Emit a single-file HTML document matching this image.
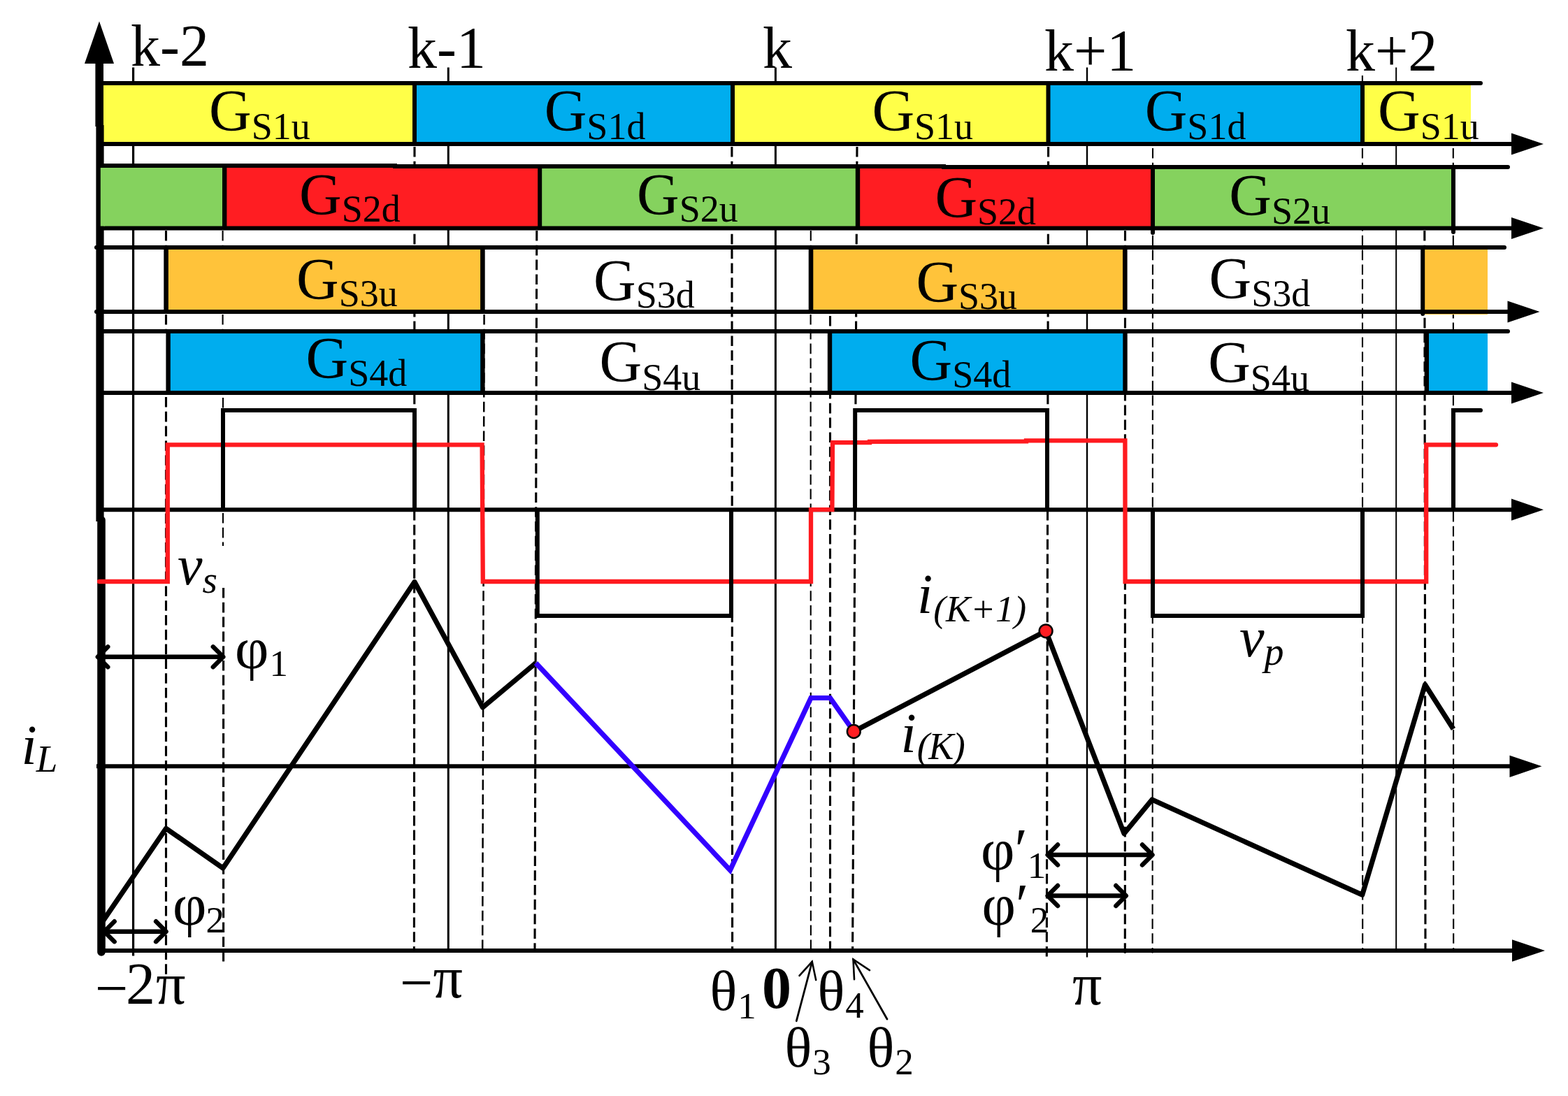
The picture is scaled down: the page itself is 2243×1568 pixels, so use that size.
<!DOCTYPE html>
<html lang="en">
<head>
<meta charset="utf-8">
<title>Gate signals and waveforms</title>
<style>
html,body{margin:0;padding:0;background:#fff;}
body{width:2243px;height:1568px;overflow:hidden;}
svg{display:block;}
svg text{font-family:"Liberation Serif","DejaVu Serif",serif;fill:#000;}
</style>
</head>
<body>
<svg width="2243" height="1568" viewBox="0 0 2243 1568">
<rect x="0" y="0" width="2243" height="1568" fill="#fff"/>
<line x1="190.6" y1="96.5" x2="190.6" y2="1367.5" stroke="#000" stroke-width="3.2" />
<line x1="641.3" y1="96.5" x2="641.3" y2="1360" stroke="#000" stroke-width="3" />
<line x1="1109.4" y1="96.5" x2="1109.4" y2="1360" stroke="#000" stroke-width="3" />
<line x1="1555" y1="96.5" x2="1555" y2="1369.5" stroke="#000" stroke-width="2.4" />
<line x1="1997.2" y1="96.5" x2="1997.2" y2="1360" stroke="#000" stroke-width="2" />
<line x1="237.5" y1="568" x2="237.5" y2="1396" stroke="#000" stroke-width="3.1" stroke-dasharray="14.6,6.2"/>
<line x1="237.5" y1="330" x2="237.5" y2="352" stroke="#000" stroke-width="3.1" stroke-dasharray="14.6,6.2"/>
<line x1="237.5" y1="450" x2="237.5" y2="472" stroke="#000" stroke-width="3.1" stroke-dasharray="14.6,6.2"/>
<line x1="318.6" y1="330" x2="318.6" y2="352" stroke="#000" stroke-width="2.1" stroke-dasharray="14.6,6.2"/>
<line x1="318.6" y1="450" x2="318.6" y2="472" stroke="#000" stroke-width="2.1" stroke-dasharray="14.6,6.2"/>
<line x1="319" y1="569" x2="319" y2="586" stroke="#000" stroke-width="2.1" stroke-dasharray="14.6,6.2"/>
<line x1="319" y1="734" x2="319" y2="781" stroke="#000" stroke-width="2.1" stroke-dasharray="14.6,6.2"/>
<line x1="319.6" y1="841" x2="319.6" y2="1381" stroke="#000" stroke-width="3.1" stroke-dasharray="14.6,6.2"/>
<line x1="593" y1="210" x2="592.4" y2="1358" stroke="#000" stroke-width="3.1" stroke-dasharray="14.6,6.2"/>
<line x1="692.6" y1="450" x2="690.2" y2="1358" stroke="#000" stroke-width="2.5" stroke-dasharray="14.6,6.2"/>
<line x1="767.8" y1="330" x2="765" y2="1358" stroke="#000" stroke-width="3.1" stroke-dasharray="14.6,6.2"/>
<line x1="1046.9" y1="210" x2="1047.6" y2="1358" stroke="#000" stroke-width="3.1" stroke-dasharray="14.6,6.2"/>
<line x1="1159.8" y1="330" x2="1159.8" y2="352" stroke="#000" stroke-width="2.1" stroke-dasharray="14.6,6.2"/>
<line x1="1159.6" y1="450" x2="1159.9" y2="1358" stroke="#000" stroke-width="2.1" stroke-dasharray="14.6,6.2"/>
<line x1="1187.5" y1="452" x2="1187.5" y2="1358" stroke="#000" stroke-width="3.1" stroke-dasharray="14.6,6.2"/>
<line x1="1226" y1="210" x2="1219.6" y2="1358" stroke="#000" stroke-width="3.1" stroke-dasharray="14.6,6.2"/>
<line x1="1499.6" y1="210" x2="1497.3" y2="1369.5" stroke="#000" stroke-width="3.1" stroke-dasharray="14.6,6.2"/>
<line x1="1609.5" y1="330" x2="1609.3" y2="1369.5" stroke="#000" stroke-width="3.1" stroke-dasharray="14.6,6.2"/>
<line x1="1649" y1="212" x2="1648.6" y2="1363.5" stroke="#000" stroke-width="2.1" stroke-dasharray="14.6,6.2"/>
<line x1="1948.9" y1="108" x2="1949.2" y2="1358" stroke="#000" stroke-width="2.1" stroke-dasharray="14.6,6.2"/>
<line x1="2037.8" y1="330" x2="2039" y2="1358" stroke="#000" stroke-width="3.1" stroke-dasharray="14.6,6.2"/>
<line x1="2078.8" y1="212" x2="2079.2" y2="1358" stroke="#000" stroke-width="2.1" stroke-dasharray="14.6,6.2"/>
<rect x="146" y="121" width="447" height="83" fill="#ffff48"/>
<rect x="593" y="121" width="455" height="83" fill="#00adee"/>
<rect x="1048" y="121" width="451" height="83" fill="#ffff48"/>
<rect x="1499" y="121" width="450" height="83" fill="#00adee"/>
<rect x="1949" y="121" width="155" height="83" fill="#ffff48"/>
<rect x="143.8" y="239" width="177.2" height="85" fill="#85d25e"/>
<rect x="321" y="239" width="451" height="85" fill="#ff1d22"/>
<rect x="772" y="239" width="455" height="85" fill="#85d25e"/>
<rect x="1227" y="239" width="422" height="85" fill="#ff1d22"/>
<rect x="1649" y="239" width="430" height="85" fill="#85d25e"/>
<rect x="237.5" y="356" width="452.5" height="90" fill="#ffc33a"/>
<rect x="1160" y="356" width="449" height="90" fill="#ffc33a"/>
<rect x="2035" y="356" width="93" height="90" fill="#ffc33a"/>
<rect x="2035" y="440" width="93" height="10" fill="#ffc33a"/>
<rect x="240.6" y="476" width="449.4" height="84" fill="#00adee"/>
<rect x="1187" y="476" width="422" height="84" fill="#00adee"/>
<rect x="2041" y="476" width="87" height="84" fill="#00adee"/>
<line x1="143" y1="119" x2="2118" y2="119" stroke="#000" stroke-width="6" stroke-linecap="round"/>
<polyline points="143,237 565,237 565,238 1350,238 1350,239 2157,239" fill="none" stroke="#000" stroke-width="6" stroke-linejoin="miter" stroke-linecap="round"/>
<line x1="138" y1="354" x2="2152" y2="354" stroke="#000" stroke-width="6" stroke-linecap="round"/>
<line x1="143" y1="474" x2="2157" y2="474" stroke="#000" stroke-width="6" stroke-linecap="round"/>
<line x1="593" y1="119" x2="593" y2="206" stroke="#000" stroke-width="6" />
<line x1="1048" y1="119" x2="1048" y2="206" stroke="#000" stroke-width="6" />
<line x1="1499.5" y1="119" x2="1499.5" y2="206" stroke="#000" stroke-width="6" />
<line x1="1949" y1="119" x2="1949" y2="206" stroke="#000" stroke-width="6" />
<line x1="321.2" y1="238" x2="321.2" y2="326" stroke="#000" stroke-width="6.4" />
<line x1="1227" y1="238" x2="1227" y2="326" stroke="#000" stroke-width="6.4" />
<line x1="1649" y1="239" x2="1649" y2="333" stroke="#000" stroke-width="6" stroke-linecap="round"/>
<line x1="772.2" y1="235" x2="772.2" y2="326" stroke="#000" stroke-width="6" />
<line x1="2079" y1="239" x2="2079" y2="332" stroke="#000" stroke-width="6" stroke-linecap="round"/>
<line x1="237.6" y1="354" x2="237.6" y2="446" stroke="#000" stroke-width="6.6" />
<line x1="690.4" y1="354" x2="690.4" y2="446" stroke="#000" stroke-width="6.6" />
<line x1="1160" y1="354" x2="1160" y2="446" stroke="#000" stroke-width="6.6" />
<line x1="1609.3" y1="354" x2="1609.3" y2="446" stroke="#000" stroke-width="6.6" />
<line x1="2035.2" y1="354" x2="2035.2" y2="449" stroke="#000" stroke-width="6" stroke-linecap="round"/>
<line x1="240.6" y1="474" x2="240.6" y2="562" stroke="#000" stroke-width="6.4" />
<line x1="690.4" y1="474" x2="690.4" y2="562" stroke="#000" stroke-width="6.4" />
<line x1="1187" y1="474" x2="1187" y2="562" stroke="#000" stroke-width="6.4" />
<line x1="1609.5" y1="474" x2="1609.5" y2="562" stroke="#000" stroke-width="6.4" />
<line x1="2040.8" y1="474" x2="2040.8" y2="562" stroke="#000" stroke-width="6.4" />
<line x1="143" y1="206" x2="2164" y2="206" stroke="#000" stroke-width="6" />
<polygon points="2208,206 2162,190.4 2162,221.6" fill="#000"/>
<line x1="143" y1="326.5" x2="2164" y2="326.5" stroke="#000" stroke-width="6" />
<polygon points="2208,326.5 2162,310.9 2162,342.1" fill="#000"/>
<line x1="138" y1="446" x2="2158.5" y2="446" stroke="#000" stroke-width="6" />
<polygon points="2202.5,446 2156.5,430.4 2156.5,461.6" fill="#000"/>
<line x1="143" y1="562" x2="2164" y2="562" stroke="#000" stroke-width="6" />
<polygon points="2208,562 2162,546.4 2162,577.6" fill="#000"/>
<line x1="143" y1="729.2" x2="2164" y2="729.2" stroke="#000" stroke-width="6" />
<polygon points="2208,729.2 2162,713.6 2162,744.8000000000001" fill="#000"/>
<line x1="138" y1="1096.3" x2="2161.5" y2="1096.3" stroke="#000" stroke-width="6" />
<polygon points="2205.5,1096.3 2159.5,1080.7 2159.5,1111.8999999999999" fill="#000"/>
<line x1="140" y1="1360" x2="2165" y2="1360" stroke="#000" stroke-width="6" />
<polygon points="2210,1360 2163,1344.2 2163,1375.8" fill="#000"/>
<line x1="138" y1="446" x2="150" y2="446" stroke="#000" stroke-width="6" stroke-linecap="round"/>
<line x1="142.2" y1="85" x2="142.2" y2="181" stroke="#000" stroke-width="11.6" />
<line x1="143" y1="179" x2="143" y2="746" stroke="#000" stroke-width="11.2" />
<line x1="145" y1="744" x2="145" y2="1362" stroke="#000" stroke-width="11.6" stroke-linecap="round"/>
<polygon points="142,30.5 121,91 163,91" fill="#000"/>
<rect x="143.8" y="240" width="6.199999999999989" height="83.5" fill="#85d25e"/>
<polyline points="142,832 239.8,832 239.8,636.3 689.6,636.3 690.8,832 1160,832 1160,729.2 1190.4,729.2 1191,633.2 1244,633.2 1244,631.8 1468,631.4 1468,630.4 1609.4,630.4 1609.6,832 2040.2,832 2040.2,636.3 2140,636.3" fill="none" stroke="#ff1a1f" stroke-width="6.3" stroke-linejoin="miter" stroke-linecap="round"/>
<polyline points="319,729.2 319,587 593,587 593,729.2" fill="none" stroke="#000" stroke-width="6" stroke-linejoin="miter"/>
<polyline points="768.8,729.2 768.8,881 1046,881 1046,729.2" fill="none" stroke="#000" stroke-width="6" stroke-linejoin="miter"/>
<polyline points="1223,729.2 1223.2,587 1498,587 1498,729.2" fill="none" stroke="#000" stroke-width="6" stroke-linejoin="miter"/>
<polyline points="1649,729.2 1649,881 1949,881 1949,729.2" fill="none" stroke="#000" stroke-width="6" stroke-linejoin="miter"/>
<polyline points="2079,729.2 2079,587 2118,587" fill="none" stroke="#000" stroke-width="6" stroke-linejoin="miter" stroke-linecap="round"/>
<polyline points="143,1324 237.5,1185.2 319,1242 593,832.5 690.5,1012 766.5,948.5" fill="none" stroke="#000" stroke-width="7.2" stroke-linejoin="round"/>
<polyline points="1221.3,1046.5 1496.1,902.8 1608,1192.5 1648,1144 1948.7,1280.3 2038.5,979.5 2079,1043" fill="none" stroke="#000" stroke-width="7.2" stroke-linejoin="round"/>
<polyline points="766.5,948.5 1044.4,1245 1160,998.5 1187.5,998.5 1221.3,1046.5" fill="none" stroke="#3300ff" stroke-width="7.2" stroke-linejoin="miter"/>
<circle cx="1221.3" cy="1046.5" r="9.4" fill="#ff1d22" stroke="#000" stroke-width="2.5"/>
<circle cx="1496.1" cy="902.8" r="9.4" fill="#ff1d22" stroke="#000" stroke-width="2.5"/>
<line x1="139.79999999999998" y1="939.8" x2="319.3" y2="939.8" stroke="#000" stroke-width="6.4" />
<polyline points="154.29999999999998,925.3 139.79999999999998,939.8 154.29999999999998,954.3" fill="none" stroke="#000" stroke-width="6.4" stroke-linejoin="round" stroke-linecap="round"/>
<polyline points="304.8,925.3 319.3,939.8 304.8,954.3" fill="none" stroke="#000" stroke-width="6.4" stroke-linejoin="round" stroke-linecap="round"/>
<line x1="149.2" y1="1332.7" x2="237.60000000000002" y2="1332.7" stroke="#000" stroke-width="6.4" />
<polyline points="163.7,1318.2 149.2,1332.7 163.7,1347.2" fill="none" stroke="#000" stroke-width="6.4" stroke-linejoin="round" stroke-linecap="round"/>
<polyline points="223.10000000000002,1318.2 237.60000000000002,1332.7 223.10000000000002,1347.2" fill="none" stroke="#000" stroke-width="6.4" stroke-linejoin="round" stroke-linecap="round"/>
<line x1="1498.6000000000001" y1="1223" x2="1648.5" y2="1223" stroke="#000" stroke-width="6.4" />
<polyline points="1513.1000000000001,1208.5 1498.6000000000001,1223 1513.1000000000001,1237.5" fill="none" stroke="#000" stroke-width="6.4" stroke-linejoin="round" stroke-linecap="round"/>
<polyline points="1634.0,1208.5 1648.5,1223 1634.0,1237.5" fill="none" stroke="#000" stroke-width="6.4" stroke-linejoin="round" stroke-linecap="round"/>
<line x1="1498.6000000000001" y1="1281.5" x2="1610.8" y2="1281.5" stroke="#000" stroke-width="6.4" />
<polyline points="1513.1000000000001,1267.0 1498.6000000000001,1281.5 1513.1000000000001,1296.0" fill="none" stroke="#000" stroke-width="6.4" stroke-linejoin="round" stroke-linecap="round"/>
<polyline points="1596.3,1267.0 1610.8,1281.5 1596.3,1296.0" fill="none" stroke="#000" stroke-width="6.4" stroke-linejoin="round" stroke-linecap="round"/>
<line x1="1139.3" y1="1460.7" x2="1161.7" y2="1376" stroke="#000" stroke-width="2.8" stroke-linecap="round" stroke-linejoin="miter"/>
<polyline points="1143.5,1395.9 1161.7,1375.8 1167.2,1402.1" fill="none" stroke="#000" stroke-width="2.6" stroke-linecap="round" stroke-linejoin="miter"/>
<line x1="1269" y1="1458" x2="1220.6" y2="1372.6" stroke="#000" stroke-width="2.8" stroke-linecap="round" stroke-linejoin="miter"/>
<polyline points="1222,1401.1 1220.5,1372.4 1244,1388.1" fill="none" stroke="#000" stroke-width="2.6" stroke-linecap="round" stroke-linejoin="miter"/>
<text x="187" y="94" font-size="84" text-anchor="start" font-weight="normal" >k-2</text>
<text x="583" y="97" font-size="84" text-anchor="start" font-weight="normal" >k-1</text>
<text x="1091" y="97" font-size="84" text-anchor="start" font-weight="normal" >k</text>
<text x="1494" y="101" font-size="84" text-anchor="start" font-weight="normal" >k+1</text>
<text x="1925" y="101" font-size="84" text-anchor="start" font-weight="normal" >k+2</text>
<text x="299" y="187.2" font-size="84">G<tspan font-size="54" dy="12">S1u</tspan></text>
<text x="778.7" y="187.3" font-size="84">G<tspan font-size="54" dy="12">S1d</tspan></text>
<text x="1247.4" y="187.2" font-size="84">G<tspan font-size="54" dy="12">S1u</tspan></text>
<text x="1637.7" y="187.2" font-size="84">G<tspan font-size="54" dy="12">S1d</tspan></text>
<text x="1971" y="187.2" font-size="84">G<tspan font-size="54" dy="12">S1u</tspan></text>
<text x="428" y="306.8" font-size="84">G<tspan font-size="54" dy="10.2">S2d</tspan></text>
<text x="911" y="306.5" font-size="84">G<tspan font-size="54" dy="10.2">S2u</tspan></text>
<text x="1337.4" y="310.8" font-size="84">G<tspan font-size="54" dy="10.2">S2d</tspan></text>
<text x="1758.3" y="307.7" font-size="84">G<tspan font-size="54" dy="12">S2u</tspan></text>
<text x="424" y="428" font-size="84">G<tspan font-size="54" dy="10.2">S3u</tspan></text>
<text x="849" y="430" font-size="84">G<tspan font-size="54" dy="10.2">S3d</tspan></text>
<text x="1310.4" y="431.8" font-size="84">G<tspan font-size="54" dy="10.2">S3u</tspan></text>
<text x="1729.5" y="426.9" font-size="84">G<tspan font-size="54" dy="10.6">S3d</tspan></text>
<text x="437.5" y="541" font-size="84">G<tspan font-size="54" dy="11.1">S4d</tspan></text>
<text x="857.5" y="545.7" font-size="84">G<tspan font-size="54" dy="12.4">S4u</tspan></text>
<text x="1301.5" y="544.2" font-size="84">G<tspan font-size="54" dy="9.9">S4d</tspan></text>
<text x="1728.2" y="546.8" font-size="84">G<tspan font-size="54" dy="12.4">S4u</tspan></text>
<text x="254" y="835.8" font-size="80" font-style="italic">v<tspan font-size="55" dy="12" dx="0">s</tspan></text>
<text x="1773" y="939" font-size="80" font-style="italic">v<tspan font-size="56" dy="12" dx="0">p</tspan></text>
<text x="30.5" y="1093" font-size="80" font-style="italic">i<tspan font-size="55" dy="11.3" dx="-1">L</tspan></text>
<text x="1312" y="877" font-size="80" font-style="italic">i<tspan font-size="53" dy="12" dx="1">(K+1)</tspan></text>
<text x="1288.5" y="1075.5" font-size="80" font-style="italic" letter-spacing="-1.5">i<tspan font-size="54" dy="10" dx="2.5">(K)</tspan></text>
<text x="336" y="956" font-size="84" >φ<tspan font-size="53" dy="11" dx="1">1</tspan></text>
<text x="247" y="1323" font-size="84" >φ<tspan font-size="53" dy="10.5" dx="-1">2</tspan></text>
<text x="1403" y="1244" font-size="84" >φ′<tspan font-size="53" dy="12" dx="0">1</tspan></text>
<text x="1404.5" y="1322.7" font-size="84" >φ′<tspan font-size="53" dy="11" dx="2.5">2</tspan></text>
<text x="136" y="1435.6" font-size="84"><tspan dy="6.8">−</tspan><tspan dx="-3.3" dy="-6.8">2</tspan><tspan dx="1">π</tspan></text>
<text x="572" y="1427" font-size="84"><tspan dy="6.8">−</tspan><tspan dx="0" dy="-6.8">π</tspan></text>
<text x="1534" y="1437" font-size="84" text-anchor="start" font-weight="normal" >π</text>
<text x="1015.5" y="1445" font-size="81" >θ<tspan font-size="53" dy="12" dx="1">1</tspan></text>
<text x="1090" y="1441.5" font-size="84" text-anchor="start" font-weight="bold" >0</text>
<text x="1169.5" y="1445" font-size="81" >θ<tspan font-size="53" dy="11" dx="1">4</tspan></text>
<text x="1122.5" y="1526" font-size="81" >θ<tspan font-size="53" dy="11" dx="1">3</tspan></text>
<text x="1240.5" y="1526" font-size="81" >θ<tspan font-size="53" dy="11" dx="1">2</tspan></text>
</svg>
</body>
</html>
